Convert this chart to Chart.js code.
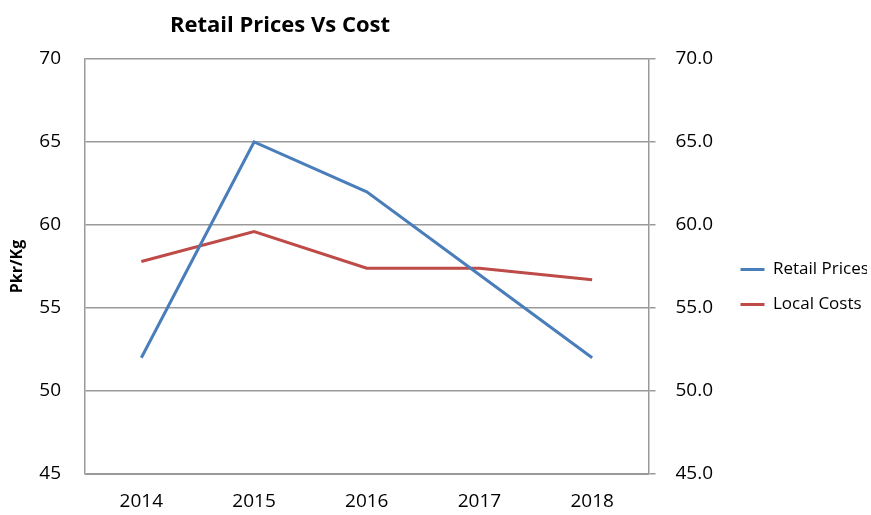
<!DOCTYPE html>
<html>
<head>
<meta charset="utf-8">
<script src="https://cdn.jsdelivr.net/npm/chart.js@4.4.0/dist/chart.umd.min.js"></script>
<style>
body{margin:0;background:#fff;}
#wrap{position:relative;width:871px;height:515px;}
#title{position:absolute;left:0;width:560px;top:8px;text-align:center;font:bold 22px "Open Sans";color:#000;}
</style>
</head>
<body>
<div id="wrap">
  <canvas id="chart" width="871" height="515"></canvas>
  <div id="title">Retail Prices Vs Cost</div>
</div>
<script>
// data
const years=["2014","2015","2016","2017","2018"];
const retail_prices=[52,65,62,57,52];
const local_costs=[57.8,59.6,57.4,57.4,56.7];
const y_min=45, y_max=70, y_step=5;

const grid_color="#9a9a9a";
const tick_font={family:"Open Sans",size:19};

function drawChart(){
  const ctx=document.getElementById("chart").getContext("2d");
  new Chart(ctx,{
    type:"line",
    data:{
      labels:years,
      datasets:[
        {
          label:"Retail Prices",
          data:retail_prices,
          borderColor:"#4a7ebb",
          backgroundColor:"#4a7ebb",
          borderWidth:3,
          pointRadius:0,
          fill:false,
          yAxisID:"y"
        },
        {
          label:"Local Costs",
          data:local_costs,
          borderColor:"#be4b48",
          backgroundColor:"#be4b48",
          borderWidth:3,
          pointRadius:0,
          fill:false,
          yAxisID:"y1"
        }
      ]
    },
    options:{
      responsive:false,
      animation:false,
      layout:{padding:{top:59,right:4,left:0,bottom:0}},
      plugins:{
        title:{display:false},
        tooltip:{enabled:false},
        legend:{
          position:"right",
          labels:{
            boxWidth:24,
            boxHeight:0,
            padding:18,
            color:"#000",
            font:{family:"Open Sans",size:17}
          }
        }
      },
      scales:{
        x:{
          offset:true,
          grid:{display:false},
          border:{color:grid_color,width:1},
          ticks:{color:"#000",font:tick_font,padding:8},
          afterFit:s=>{s.height=41;}
        },
        y:{
          position:"left",
          min:y_min,max:y_max,
          ticks:{stepSize:y_step,color:"#000",font:tick_font,padding:24},
          grid:{color:grid_color,drawTicks:false,lineWidth:1.5},
          border:{color:grid_color,width:1.5},
          title:{display:true,text:"Pkr/Kg",color:"#000",font:{family:"Open Sans",size:16,weight:"bold"},padding:{top:8,bottom:0}},
          afterFit:s=>{s.width=85;}
        },
        y1:{
          position:"right",
          min:y_min,max:y_max,
          ticks:{stepSize:y_step,color:"#000",font:tick_font,padding:20,callback:v=>v.toFixed(1)},
          grid:{drawOnChartArea:false,color:grid_color,tickLength:7,lineWidth:1.5},
          border:{color:grid_color,width:1.5},
          afterFit:s=>{s.width=74;}
        }
      }
    }
  });
}

Promise.all([
  document.fonts.load('17px "Open Sans"'),
  document.fonts.load('19px "Open Sans"'),
  document.fonts.load('bold 16px "Open Sans"')
]).then(drawChart,drawChart);
</script>
</body>
</html>
